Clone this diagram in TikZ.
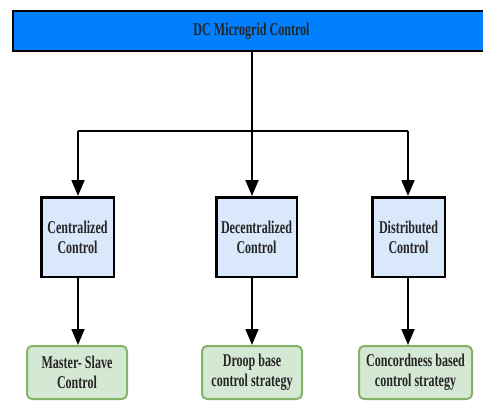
\documentclass[tikz,border=0pt]{standalone}
\usepackage{fontspec}
\setmainfont[FakeStretch=0.67]{Liberation Serif}
\usetikzlibrary{arrows.meta}

\definecolor{barblue}{HTML}{0080FF}
\definecolor{boxblue}{HTML}{DAE8FC}
\definecolor{boxgreen}{HTML}{D5E8D4}
\definecolor{edgegreen}{HTML}{82B366}

\tikzset{
    txt/.style={align=center, font=\fontsize{18}{20}\selectfont\bfseries, text=black!85},
    topbar/.style={txt, draw, fill=barblue, line width=2pt, minimum width=477pt, minimum height=40pt},
    ctrlbox/.style={txt, draw, fill=boxblue, line width=2.5pt, minimum height=79.5pt, inner sep=2pt},
    stratbox/.style={txt, draw=edgegreen, fill=boxgreen, line width=2pt, rounded corners=5pt, minimum height=53pt, inner sep=2pt},
    arr/.style={line width=1.8pt, -{Triangle[width=13pt,length=16pt]}},
    ln/.style={line width=1.8pt}
}

\begin{document}
\begin{tikzpicture}[x=1pt, y=-1pt]
    \useasboundingbox (0,0) rectangle (483,402);

    % top level
    \node[topbar] (dc) at (251.5, 31) {DC Microgrid Control};

    % branch points
    \coordinate (split) at (252, 131);
    \coordinate (l) at (78, 131);
    \coordinate (m) at (252, 131);
    \coordinate (r) at (408, 131);

    % control types
    \node[ctrlbox, minimum width=72.5pt] (cen) at (77.5, 237) {Centralized\\Control};
    \node[ctrlbox, minimum width=80.5pt] (dec) at (256.5, 237) {Decentralized\\Control};
    \node[ctrlbox, minimum width=72.5pt] (dis) at (408.5, 237) {Distributed\\Control};

    % strategies
    \node[stratbox, minimum width=100pt] (ms) at (77, 372.5) {Master- Slave\\Control};
    \node[stratbox, minimum width=100pt] (droop) at (252, 372.5) {Droop base\\control strategy};
    \node[stratbox, minimum width=113pt] (conc) at (415.5, 372.5) {Concordness based\\control strategy};

    \draw[ln] (dc.south -| split) -- (split);
    \draw[ln] (l) -- (r);
    \draw[arr] (l) -- (l |- cen.north);
    \draw[arr] (m) -- (m |- dec.north);
    \draw[arr] (r) -- (r |- dis.north);

    \draw[arr] (l |- cen.south) -- (l |- ms.north);
    \draw[arr] (m |- dec.south) -- (m |- droop.north);
    \draw[arr] (r |- dis.south) -- (r |- conc.north);
\end{tikzpicture}
\end{document}
